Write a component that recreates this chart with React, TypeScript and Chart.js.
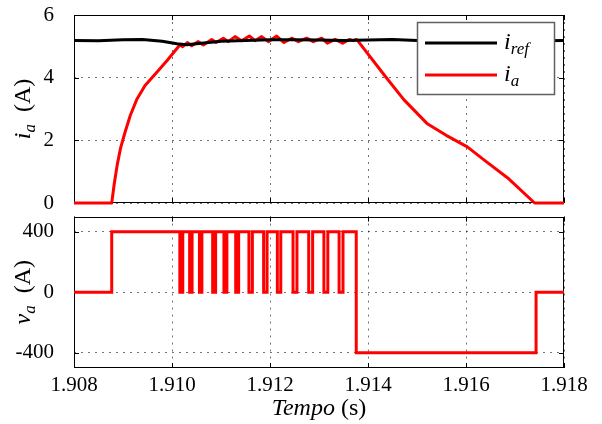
import React, { useEffect, useRef } from "react";
import { Chart, registerables } from "chart.js";

Chart.register(...registerables);

const X_MIN = 1.908;
const X_MAX = 1.918;
const timeTicks = [1.908, 1.91, 1.912, 1.914, 1.916, 1.918];
const currentTicks = [0, 2, 4, 6];
const voltageTicks = [-400, 0, 400];

const irefTime = [1.908, 1.9085, 1.909, 1.9094, 1.9098, 1.9101, 1.9103, 1.9106, 1.911, 1.9115, 1.912, 1.9125, 1.913, 1.9135, 1.914, 1.9145, 1.915, 1.9154, 1.9158, 1.9163, 1.917, 1.918];
const irefValue = [5.19, 5.18, 5.21, 5.22, 5.16, 5.08, 5.05, 5.1, 5.16, 5.19, 5.21, 5.21, 5.2, 5.19, 5.2, 5.22, 5.19, 5.12, 5.06, 5.08, 5.17, 5.19];

const iaTime = [
  1.908, 1.90877, 1.90882, 1.90888, 1.90895, 1.90904, 1.90915, 1.90928, 1.90945, 1.90965, 1.9099, 1.910163,
  1.910218, 1.910313, 1.910401, 1.910537, 1.910639, 1.91081, 1.910898, 1.911048, 1.91115, 1.911286,
  1.911422, 1.911578, 1.911694, 1.91183, 1.911966, 1.912136, 1.912286, 1.912442, 1.912578, 1.912748,
  1.912884, 1.913054, 1.91317, 1.913327, 1.913483, 1.913619, 1.9137, 1.913769,
  1.914339, 1.914731, 1.915202, 1.915596, 1.916027, 1.91638, 1.916851, 1.9174, 1.918,
];
const iaValue = [
  0, 0, 0.6, 1.2, 1.75, 2.25, 2.8, 3.3, 3.75, 4.1, 4.55, 5.05,
  4.99, 5.12, 5.02, 5.15, 5.04, 5.22, 5.12, 5.26, 5.15, 5.31,
  5.18, 5.33, 5.18, 5.31, 5.15, 5.33, 5.12, 5.26, 5.15, 5.26,
  5.15, 5.26, 5.1, 5.22, 5.1, 5.22, 5.18, 5.22,
  4.07, 3.3, 2.54, 2.16, 1.79, 1.36, 0.8, 0, 0,
];

// switching instants of v_a and the value taken from each instant on
const vaTime = [
  1.908, 1.90877,
  1.91016, 1.91022, 1.91036, 1.91041, 1.91056, 1.91061, 1.91083, 1.91089,
  1.91106, 1.91112, 1.9113, 1.91136, 1.91157, 1.91164, 1.91187, 1.91194,
  1.91215, 1.91222, 1.91247, 1.91255, 1.91279, 1.91287, 1.9131, 1.91318,
  1.91341, 1.91349, 1.91376, 1.91743, 1.918,
];
const vaValue = [
  0, 400,
  0, 400, 0, 400, 0, 400, 0, 400,
  0, 400, 0, 400, 0, 400, 0, 400,
  0, 400, 0, 400, 0, 400, 0, 400,
  0, 400, -400, 0, 0,
];

const SERIF = '"Liberation Serif", "Times New Roman", serif';
const pts = (t: number[], v: number[]) => t.map((x, i) => ({ x, y: v[i] }));

type Part = { t: string; italic?: boolean; size: number; dy?: number };

function drawRich(ctx: CanvasRenderingContext2D, parts: Part[], x: number, y: number, angle: number, align: "center" | "left") {
  ctx.save();
  ctx.translate(x, y);
  ctx.rotate(angle);
  ctx.fillStyle = "#000";
  ctx.textBaseline = "alphabetic";
  ctx.textAlign = "left";
  let w = 0;
  for (const p of parts) {
    ctx.font = `${p.italic ? "italic " : ""}${p.size}px ${SERIF}`;
    w += ctx.measureText(p.t).width;
  }
  let cx = align === "center" ? -w / 2 : 0;
  for (const p of parts) {
    ctx.font = `${p.italic ? "italic " : ""}${p.size}px ${SERIF}`;
    ctx.fillText(p.t, cx, p.dy || 0);
    cx += ctx.measureText(p.t).width;
  }
  ctx.restore();
}

const framePlugin = {
  id: "frame",
  beforeDatasetsDraw(chart: any) {
    const { ctx, chartArea: a, scales } = chart;
    ctx.save();
    ctx.strokeStyle = "#000";
    ctx.lineWidth = 1;
    ctx.strokeRect(Math.round(a.left) + 0.5, Math.round(a.top) + 0.5, Math.round(a.right - a.left) - 1, Math.round(a.bottom - a.top) - 1);
    const L = 5;
    ctx.beginPath();
    for (const t of scales.x.ticks) {
      const px = Math.round(scales.x.getPixelForValue(t.value)) + 0.5;
      ctx.moveTo(px, a.bottom);
      ctx.lineTo(px, a.bottom - L);
      ctx.moveTo(px, a.top);
      ctx.lineTo(px, a.top + L);
    }
    for (const t of scales.y.ticks) {
      const py = Math.round(scales.y.getPixelForValue(t.value)) + 0.5;
      ctx.moveTo(a.left, py);
      ctx.lineTo(a.left + L, py);
      ctx.moveTo(a.right, py);
      ctx.lineTo(a.right - L, py);
    }
    ctx.stroke();
    ctx.restore();
  },
};

function makeTitlePlugin(parts: Part[], kind: "y" | "x") {
  return {
    id: "richTitle" + kind,
    afterDraw(chart: any) {
      const { ctx, chartArea: a } = chart;
      if (kind === "y") {
        drawRich(ctx, parts, 30, (a.top + a.bottom) / 2, -Math.PI / 2, "center");
      } else {
        drawRich(ctx, parts, (a.left + a.right) / 2, chart.height - 9, 0, "center");
      }
    },
  };
}

const legendPlugin = {
  id: "boxLegend",
  afterDraw(chart: any) {
    const ctx = chart.ctx;
    ctx.save();
    ctx.fillStyle = "#fff";
    ctx.fillRect(417, 22, 138, 73);
    ctx.strokeStyle = "#606060";
    ctx.lineWidth = 1.5;
    ctx.strokeRect(417.5, 22.5, 137, 72);
    ctx.lineWidth = 3;
    ctx.strokeStyle = "#000";
    ctx.beginPath();
    ctx.moveTo(425, 43);
    ctx.lineTo(497, 43);
    ctx.stroke();
    ctx.strokeStyle = "#ff0000";
    ctx.beginPath();
    ctx.moveTo(425, 75);
    ctx.lineTo(497, 75);
    ctx.stroke();
    ctx.restore();
    drawRich(ctx, [{ t: "i", italic: true, size: 24 }, { t: "ref", italic: true, size: 17, dy: 5 }], 504, 49, 0, "left");
    drawRich(ctx, [{ t: "i", italic: true, size: 24 }, { t: "a", italic: true, size: 17, dy: 5 }], 504, 81, 0, "left");
  },
};

const gridCommon = { color: "rgba(0,0,0,0.55)", lineWidth: 1 };
const borderCommon = { display: false, dash: [2, 5] };
const TICK_FONT = { family: SERIF, size: 21, lineHeight: 1.1 };

export default function App() {
  const topRef = useRef<HTMLCanvasElement>(null);
  const botRef = useRef<HTMLCanvasElement>(null);

  useEffect(() => {
    const xScale = (showLabels: boolean, height: number) => ({
      type: "linear" as const,
      min: X_MIN,
      max: X_MAX,
      afterBuildTicks: (s: any) => {
        s.ticks = timeTicks.map((v) => ({ value: v }));
      },
      afterFit: (s: any) => {
        s.height = height;
      },
      grid: { ...gridCommon, drawTicks: true, tickLength: 6, tickColor: "rgba(0,0,0,0)" },
      border: borderCommon,
      ticks: {
        display: showLabels,
        padding: 0,
        maxRotation: 0,
        autoSkip: false,
        color: "#000",
        font: TICK_FONT,
        callback: (v: any) => Number(v).toFixed(3),
      },
    });
    const yScale = (min: number, max: number, ticks: number[]) => ({
      type: "linear" as const,
      min,
      max,
      afterBuildTicks: (s: any) => {
        s.ticks = ticks.map((v) => ({ value: v }));
      },
      afterFit: (s: any) => {
        s.width = 74;
      },
      grid: { ...gridCommon, drawTicks: true, tickLength: 20, tickColor: "rgba(0,0,0,0)" },
      border: borderCommon,
      ticks: {
        padding: 0,
        color: "#000",
        font: TICK_FONT,
        callback: (v: any) => String(v),
      },
    });

    const top = new Chart(topRef.current!, {
      type: "line",
      data: {
        datasets: [
          { label: "i_ref", data: pts(irefTime, irefValue), borderColor: "#000", borderWidth: 3, pointRadius: 0, tension: 0, clip: 4 } as any,
          { label: "i_a", data: pts(iaTime, iaValue), borderColor: "#ff0000", borderWidth: 3, pointRadius: 0, tension: 0, borderJoinStyle: "round", clip: 4 } as any,
        ],
      },
      options: {
        responsive: false,
        animation: false,
        events: [],
        layout: { padding: { left: 0, right: 38, top: 15, bottom: 0 } },
        plugins: { legend: { display: false }, tooltip: { enabled: false }, title: { display: false } },
        scales: { x: xScale(false, 12), y: yScale(0, 6, currentTicks) },
      } as any,
      plugins: [framePlugin, legendPlugin, makeTitlePlugin([{ t: "i", italic: true, size: 24 }, { t: "a", italic: true, size: 17, dy: 5 }, { t: "  (A)", size: 24 }], "y")],
    });

    const bot = new Chart(botRef.current!, {
      type: "line",
      data: {
        datasets: [
          { label: "v_a", data: pts(vaTime, vaValue), borderColor: "#ff0000", borderWidth: 3, pointRadius: 0, stepped: "before", clip: 4 } as any,
        ],
      },
      options: {
        responsive: false,
        animation: false,
        events: [],
        layout: { padding: { left: 0, right: 38, top: 0, bottom: 0 } },
        plugins: { legend: { display: false }, tooltip: { enabled: false }, title: { display: false } },
        scales: { x: xScale(true, 56), y: yScale(-500, 500, voltageTicks) },
      } as any,
      plugins: [
        framePlugin,
        makeTitlePlugin([{ t: "v", italic: true, size: 24 }, { t: "a", italic: true, size: 17, dy: 5 }, { t: "  (A)", size: 24 }], "y"),
        makeTitlePlugin([{ t: "Tempo", italic: true, size: 24 }, { t: " (s)", size: 24 }], "x"),
      ],
    });

    return () => {
      top.destroy();
      bot.destroy();
    };
  }, []);

  return (
    <div style={{ position: "absolute", left: 0, top: 0, width: 602, height: 424, background: "#fff" }}>
      <canvas ref={topRef} width={602} height={215} style={{ position: "absolute", left: 0, top: 0, width: 602, height: 215 }} />
      <canvas ref={botRef} width={602} height={219} style={{ position: "absolute", left: 0, top: 205, width: 602, height: 219 }} />
    </div>
  );
}
